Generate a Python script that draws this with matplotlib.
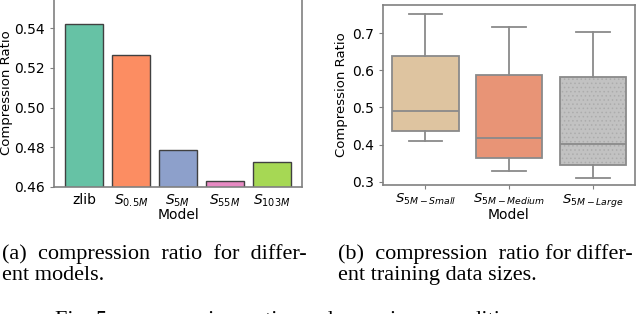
import matplotlib
matplotlib.use("Agg")
import matplotlib.pyplot as plt
from matplotlib.colors import to_rgba

# (a) compression ratio per model
models = ["zlib", "$S_{0.5M}$", "$S_{5M}$", "$S_{55M}$", "$S_{103M}$"]
ratios = [0.5423, 0.5265, 0.4785, 0.4630, 0.4727]
bar_colors = ["#66c2a5", "#fc8d62", "#8da0cb", "#e78ac3", "#a6d854"]

# (b) box statistics per training data size
sizes = ["$S_{5M-Small}$", "$S_{5M-Medium}$", "$S_{5M-Large}$"]
whislo = [0.410, 0.329, 0.311]
q1 = [0.4365, 0.363, 0.346]
med = [0.490, 0.4185, 0.402]
q3 = [0.640, 0.587, 0.582]
whishi = [0.752, 0.716, 0.703]
box_colors = ["#dec4a0", "#e89476", "#c2c2c2"]
box_hatches = ["", "", "...."]

plt.rcParams["hatch.linewidth"] = 0.6

fig = plt.figure(figsize=(6.4, 3.14), dpi=100)
spine_c = "#808080"

# ---- left panel ----
ax1 = fig.add_axes([0.0844, 0.4045, 0.3876, 0.6])
ax1.bar(range(len(models)), ratios, width=0.8, color=bar_colors,
        edgecolor="#404040", linewidth=1.0)
ax1.set_ylim(0.46, 0.555)
ax1.set_xlim(-0.64, 4.64)
ax1.set_yticks([0.46, 0.48, 0.50, 0.52, 0.54])
ax1.set_xticks(range(len(models)))
ax1.set_xticklabels(models)
ax1.tick_params(axis="x", length=0, labelsize=10, pad=4)
ax1.tick_params(axis="y", labelsize=10, length=3, color=spine_c)
ax1.set_ylabel("Compression Ratio", fontsize=9.5)
ax1.yaxis.set_label_coords(-0.165, 0.5)
ax1.set_xlabel("Model", fontsize=10, labelpad=-1)
for s in ax1.spines.values():
    s.set_color(spine_c)
    s.set_linewidth(1.2)

# ---- right panel ----
ax2 = fig.add_axes([0.598, 0.411, 0.394, 0.574])
stats = []
for i in range(len(sizes)):
    stats.append(dict(whislo=whislo[i], q1=q1[i], med=med[i], q3=q3[i],
                      whishi=whishi[i], fliers=[], label=sizes[i]))
line_c = "#8a8a8a"
bp = ax2.bxp(stats, positions=range(len(sizes)), widths=0.79, patch_artist=True,
             boxprops=dict(edgecolor=line_c, linewidth=1.3),
             medianprops=dict(color=line_c, linewidth=1.3),
             whiskerprops=dict(color=line_c, linewidth=1.3),
             capprops=dict(color=line_c, linewidth=1.3), capwidths=0.4)
for patch, c, h in zip(bp["boxes"], box_colors, box_hatches):
    patch.set_facecolor(c)
    patch.set_hatch(h)
    patch._hatch_color = to_rgba("#acacac")
ax2.set_ylim(0.291, 0.777)
ax2.set_xlim(-0.51, 2.5)
ax2.set_yticks([0.3, 0.4, 0.5, 0.6, 0.7])
ax2.set_xticks(range(len(sizes)))
ax2.set_xticklabels(sizes)
ax2.tick_params(axis="x", labelsize=9.5, length=3, color=spine_c, pad=2)
ax2.tick_params(axis="y", labelsize=10, length=3, color=spine_c)
ax2.set_ylabel("Compression Ratio", fontsize=9.5, labelpad=3)
ax2.set_xlabel("Model", fontsize=10, labelpad=-1)
for s in ax2.spines.values():
    s.set_color(spine_c)
    s.set_linewidth(1.2)

# ---- captions (baseline of last line) ----
cap = dict(family="Liberation Serif", fontsize=16, linespacing=1.15,
           va="baseline", ha="left")
fig.text(0.003, 1 - 280 / 314, "(a)  compression  ratio  for  differ-\nent models.", **cap)
fig.text(0.528, 1 - 280 / 314, "(b)  compression  ratio for differ-\nent training data sizes.", **cap)
fig.text(0.086, 1 - 325 / 314, "Fig. 5:  compression  ratio  under  various  conditions.",
         family="Liberation Serif", fontsize=16, va="baseline", ha="left")

fig.savefig("out.png", dpi=100)
